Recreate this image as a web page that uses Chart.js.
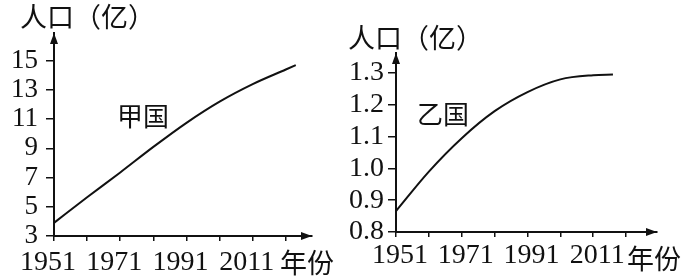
<!DOCTYPE html>
<html>
<head>
<meta charset="utf-8">
<script src="https://cdn.jsdelivr.net/npm/chart.js@4.4.1/dist/chart.umd.min.js"></script>
<style>
  html, body { margin: 0; padding: 0; background: #fff; }
  #wrap { position: relative; width: 690px; height: 280px; }
  .box { position: absolute; top: 0; height: 280px; }
  #left { left: 0; width: 340px; }
  #right { left: 340px; width: 350px; }
</style>
</head>
<body>
<div id="wrap">
  <div class="box" id="left"><canvas id="chartJia"></canvas></div>
  <div class="box" id="right"><canvas id="chartYi"></canvas></div>
</div>
<script>
// values
const yearTicks = [1951, 1961, 1971, 1981, 1991, 2001, 2011, 2021];
const yearLabels = [1951, 1971, 1991, 2011];

const jiaYears = [1951, 1961, 1971, 1981, 1991, 2001, 2011, 2021, 2024];
const jiaPop = [3.9, 5.65, 7.35, 9.1, 10.75, 12.2, 13.4, 14.4, 14.7];
const jiaTicks = [3, 5, 7, 9, 11, 13, 15];

const yiYears = [1951, 1961, 1971, 1981, 1991, 2001, 2011, 2017];
const yiPop = [0.866, 0.99, 1.095, 1.18, 1.24, 1.28, 1.293, 1.295];
const yiTicks = [0.8, 0.9, 1.0, 1.1, 1.2, 1.3];

const CN = '"Noto Sans CJK SC", sans-serif';
const NUM = '"Liberation Serif", "Times New Roman", serif';
const INK = '#111';

// arrow heads on both axes plus the loose labels
const axisMarks = {
  id: 'axisMarks',
  afterDraw(chart, args, opts) {
    const { ctx, chartArea: a } = chart;
    ctx.save();
    ctx.fillStyle = INK;
    ctx.beginPath();
    ctx.moveTo(a.left, a.top);
    ctx.lineTo(a.left - 4, a.top + 11);
    ctx.lineTo(a.left + 4, a.top + 11);
    ctx.closePath();
    ctx.fill();
    ctx.beginPath();
    ctx.moveTo(a.right, a.bottom);
    ctx.lineTo(a.right - 11, a.bottom - 4);
    ctx.lineTo(a.right - 11, a.bottom + 4);
    ctx.closePath();
    ctx.fill();

    ctx.textBaseline = 'middle';
    ctx.textAlign = 'left';
    ctx.font = '27px ' + CN;
    ctx.fillText('人口（亿）', opts.title[0], opts.title[1]);
    ctx.fillText('年份', opts.unit[0], opts.unit[1]);
    ctx.font = '26px ' + CN;
    ctx.fillText(opts.name, opts.nameAt[0], opts.nameAt[1]);
    ctx.restore();
  }
};

function makeChart(id, o) {
  return new Chart(document.getElementById(id), {
    type: 'line',
    data: {
      datasets: [{
        data: o.years.map((x, i) => ({ x, y: o.pop[i] })),
        borderColor: INK,
        borderWidth: 2,
        pointRadius: 0,
        cubicInterpolationMode: 'monotone',
        fill: false
      }]
    },
    options: {
      responsive: true,
      maintainAspectRatio: false,
      animation: false,
      layout: { padding: o.pad },
      plugins: {
        legend: { display: false },
        tooltip: { enabled: false },
        axisMarks: o.marks
      },
      scales: {
        x: {
          type: 'linear',
          min: 1951,
          max: o.xMax,
          afterBuildTicks: s => { s.ticks = yearTicks.map(v => ({ value: v })); },
          afterFit: s => { s.height = o.xH; },
          grid: { drawOnChartArea: false, tickLength: 5, color: INK, lineWidth: 1.5 },
          border: { color: INK, width: 2 },
          ticks: {
            autoSkip: false,
            maxRotation: 0,
            padding: o.xPad,
            labelOffset: o.xShift,
            color: INK,
            font: { family: NUM, size: 28 },
            callback: v => yearLabels.includes(v) ? String(v) : ''
          }
        },
        y: {
          min: o.yMin,
          max: o.yMax,
          afterBuildTicks: s => { s.ticks = o.yTicks.map(v => ({ value: v })); },
          afterFit: s => { s.width = o.yW; },
          grid: { drawOnChartArea: false, tickLength: 8, color: INK, lineWidth: 1.5 },
          border: { color: INK, width: 2 },
          ticks: {
            autoSkip: false,
            padding: o.yPad,
            color: INK,
            font: { family: NUM, size: o.yFont },
            callback: v => v.toFixed(o.dec)
          }
        }
      }
    },
    plugins: [axisMarks]
  });
}

makeChart('chartJia', {
  years: jiaYears, pop: jiaPop, yTicks: jiaTicks,
  yMin: 3, yMax: 16.9, xMax: 2028.9, dec: 0,
  pad: { left: 0, right: 28, top: 33, bottom: 0 },
  yW: 54, xH: 44, xPad: 5, yPad: 8, xShift: -6, yFont: 27,
  marks: { title: [20, 17], unit: [280, 263], name: '甲国', nameAt: [117, 116] }
});

makeChart('chartYi', {
  years: yiYears, pop: yiPop, yTicks: yiTicks,
  yMin: 0.8, yMax: 1.363, xMax: 2030.4, dec: 1,
  pad: { left: 0, right: 33, top: 53, bottom: 0 },
  yW: 56, xH: 48, xPad: 2, yPad: 4, xShift: 4, yFont: 28,
  marks: { title: [8, 38], unit: [287, 259], name: '乙国', nameAt: [77, 114] }
});
</script>
</body>
</html>
